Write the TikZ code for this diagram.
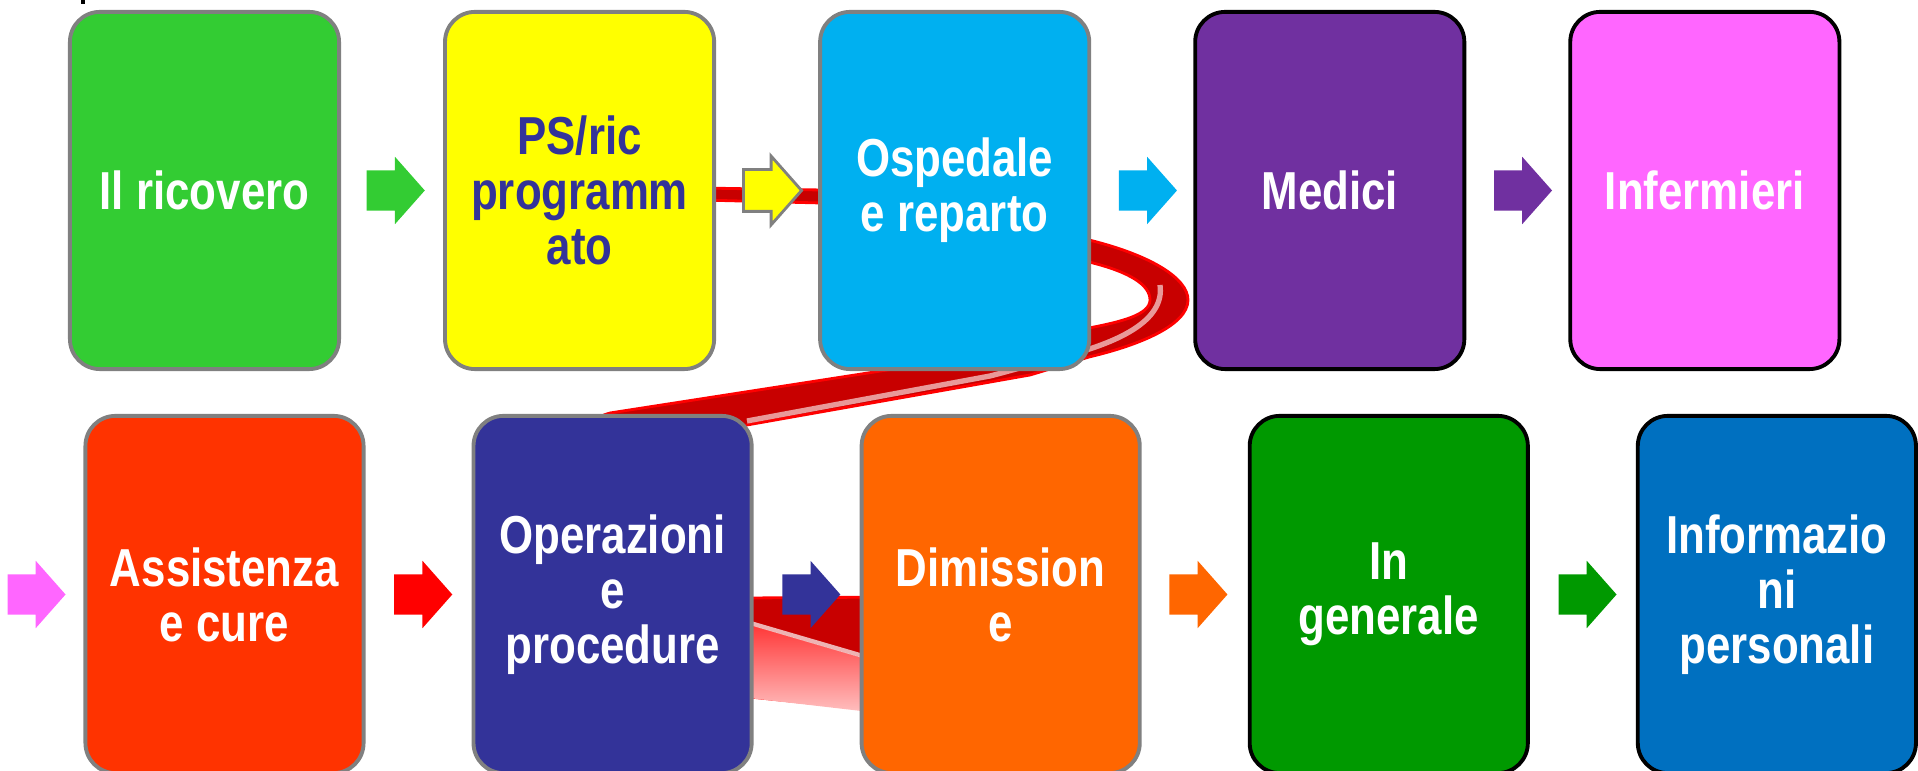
\documentclass[tikz,border=0pt]{standalone}
\usepackage{fontspec}
\usepackage{tikz}
\usetikzlibrary{shapes,shapes.arrows,positioning}

\newfontfamily\cardfont[FakeStretch=0.82]{Liberation Sans}

\definecolor{verde}{HTML}{33CC33}
\definecolor{giallo}{HTML}{FFFF00}
\definecolor{azzurro}{HTML}{00B0F0}
\definecolor{viola}{HTML}{7030A0}
\definecolor{rosa}{HTML}{FF66FF}
\definecolor{rossoar}{HTML}{FF3300}
\definecolor{indaco}{HTML}{333399}
\definecolor{arancio}{HTML}{FF6600}
\definecolor{verdescuro}{HTML}{009900}
\definecolor{blu}{HTML}{0070C0}
\definecolor{bordo}{HTML}{808080}
\definecolor{nastro}{HTML}{C80000}

\begin{document}
\begin{tikzpicture}
	[x=0.01cm, y=-0.01cm,
	card/.style={draw=bordo, line width=1.1pt, rounded corners=0.3cm,
		minimum width=2.69cm, minimum height=3.57cm, inner sep=2pt,
		align=center, text=white, font={\cardfont\bfseries\fontsize{15.2pt}{15.6pt}\selectfont}},
	wide/.style={card, minimum width=2.78cm},
	freccia/.style={single arrow, inner sep=0pt, text height=0.39cm, text depth=0pt,
		minimum height=0.58cm, single arrow head extend=0.135cm, single arrow tip angle=97}]
	
	\clip (0,0) rectangle (1918,771);
	\fill (81,0) rectangle (85,4);
	
	% nastro rosso dietro le schede
	\fill[nastro, draw=red, line width=0.8pt]
		(700,188) -- (821,190) .. controls (950,195) and (1030,225) .. (1089,240)
		.. controls (1150,255) and (1188,278) .. (1188,300)
		.. controls (1188,325) and (1140,345) .. (1089,357)
		.. controls (1060,366) and (1040,372) .. (1030,375) -- (747,425)
		.. controls (600,450) and (520,470) .. (520,520) -- (520,640)
		.. controls (520,680) and (700,690) .. (750,697) -- (900,712) -- (900,597) -- (750,598)
		.. controls (650,590) and (560,560) .. (560,520)
		.. controls (560,470) and (580,420) .. (610,413) -- (913,366)
		.. controls (1000,352) and (1060,338) .. (1089,328)
		.. controls (1120,322) and (1150,315) .. (1150,300)
		.. controls (1150,285) and (1130,272) .. (1089,262)
		.. controls (1030,248) and (950,205) .. (821,203) -- (700,200) -- cycle;
	\draw[white, opacity=0.6, line width=1.5pt]
		(1160,285) .. controls (1165,320) and (1120,340) .. (1080,352)
		.. controls (1040,362) and (1010,371) .. (990,376) -- (747,421);
	\shade[top color=red!80, bottom color=red!25]
		(740,622) -- (870,660) -- (870,712) -- (740,697) -- cycle;
	\draw[white, opacity=0.7, line width=1.2pt] (740,620) -- (870,658);
	
	\node[card, fill=verde] (ricovero) at (204.5,190.5) {Il ricovero};
	\node[card, fill=giallo, text=indaco, right=1.02cm of ricovero] (ps) {PS/ric\\programm\\ato};
	\node[card, fill=azzurro, right=1.02cm of ps] (ospedale) {Ospedale\\e reparto};
	\node[card, fill=viola, draw=black, right=1.02cm of ospedale] (medici) {Medici};
	\node[card, fill=rosa, draw=black, right=1.02cm of medici] (infermieri) {Infermieri};
	
	\node[wide, fill=rossoar] (assistenza) at (224.5,594.5) {Assistenza\\e cure};
	\node[wide, fill=indaco, right=1.06cm of assistenza] (operazioni) {Operazioni\\e\\procedure};
	\node[wide, fill=arancio, right=1.06cm of operazioni] (dimissione) {Dimission\\e};
	\node[wide, fill=verdescuro, draw=black, right=1.06cm of dimissione] (generale) {In\\generale};
	\node[wide, fill=blu, draw=black, right=1.06cm of generale] (informazioni) {Informazio\\ni\\personali};
	
	\node[freccia, fill=verde, right=0.25cm of ricovero] (f1) {};
	\node[freccia, fill=giallo, draw=bordo, line width=0.8pt, right=0.26cm of ps] (f2) {};
	\node[freccia, fill=azzurro, right=0.27cm of ospedale] (f3) {};
	\node[freccia, fill=viola, right=0.27cm of medici] (f4) {};
	\node[freccia, fill=rosa, left=0.17cm of assistenza] (f5) {};
	\node[freccia, fill=red, right=0.28cm of assistenza] (f6) {};
	\node[freccia, fill=indaco, right=0.28cm of operazioni] (f7) {};
	\node[freccia, fill=arancio, right=0.27cm of dimissione] (f8) {};
	\node[freccia, fill=verdescuro, right=0.28cm of generale] (f9) {};
	\end{tikzpicture}
\end{document}
